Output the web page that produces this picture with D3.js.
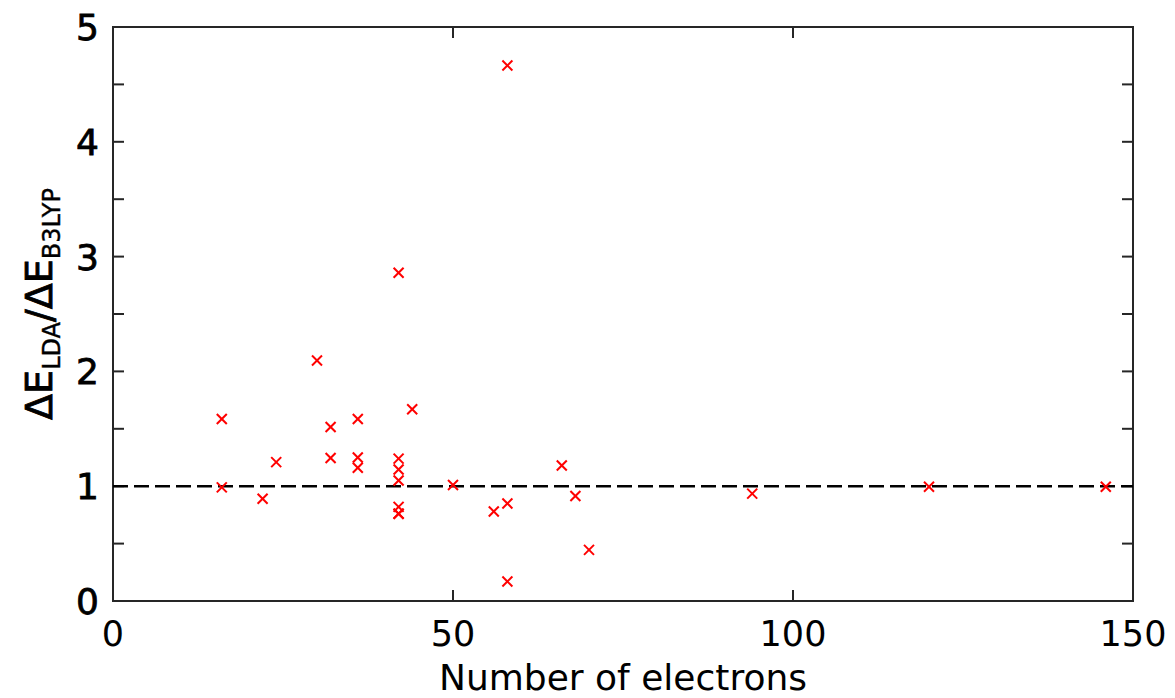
<!DOCTYPE html>
<html>
<head>
<meta charset="utf-8">
<script src="https://cdn.jsdelivr.net/npm/d3@7"></script>
<style>
  body { margin: 0; background: #fff; }
  text { font-family: 'DejaVu Sans', Verdana, sans-serif; fill: #000; }
</style>
</head>
<body>
<div id="chart"></div>
<script>
// number of electrons and energy ratio
const electrons = [16, 16, 22, 24, 30, 32, 32, 36, 36, 36, 42, 42, 42, 42, 42, 42, 42, 44, 50, 56, 58, 58, 58, 66, 68, 70, 94, 120, 146];
const ratio = [1.585, 0.99, 0.89, 1.21, 2.095, 1.515, 1.245, 1.585, 1.25, 1.16, 2.86, 1.24, 1.145, 1.05, 0.82, 0.76, 0.76, 1.67, 1.01, 0.78, 4.665, 0.85, 0.17, 1.18, 0.915, 0.445, 0.935, 0.995, 0.995];
const xTicks = [0, 50, 100, 150];
const yTicks = [0, 1, 2, 3, 4, 5];
const yMinorTicks = [0.5, 1.5, 2.5, 3.5, 4.5];
const refValue = 1;

const width = 1175, height = 698;
const margin = { top: 27, right: 42, bottom: 97, left: 113 };
const innerW = width - margin.left - margin.right;
const innerH = height - margin.top - margin.bottom;

const svg = d3.select('#chart').append('svg')
  .attr('width', width).attr('height', height);

const chart = svg.append('g')
  .attr('transform', 'translate(' + margin.left + ',' + margin.top + ')');

const x = d3.scaleLinear().domain([0, 150]).range([0, innerW]);
const y = d3.scaleLinear().domain([0, 5]).range([innerH, 0]);

const axisColor = '#262626';

// frame
chart.append('rect')
  .attr('x', 0).attr('y', 0)
  .attr('width', innerW).attr('height', innerH)
  .attr('fill', 'none')
  .attr('stroke', axisColor)
  .attr('stroke-width', 2);

// ticks pointing inward on all four sides
const tickLen = 11;
const xt = xTicks;
const yt = yTicks.concat(yMinorTicks);
chart.append('g').selectAll('line').data(xt).enter().append('line')
  .attr('x1', d => x(d)).attr('x2', d => x(d))
  .attr('y1', innerH).attr('y2', innerH - tickLen)
  .attr('stroke', axisColor).attr('stroke-width', 2);
chart.append('g').selectAll('line').data(xt).enter().append('line')
  .attr('x1', d => x(d)).attr('x2', d => x(d))
  .attr('y1', 0).attr('y2', tickLen)
  .attr('stroke', axisColor).attr('stroke-width', 2);
chart.append('g').selectAll('line').data(yt).enter().append('line')
  .attr('x1', 0).attr('x2', tickLen)
  .attr('y1', d => y(d)).attr('y2', d => y(d))
  .attr('stroke', axisColor).attr('stroke-width', 2);
chart.append('g').selectAll('line').data(yt).enter().append('line')
  .attr('x1', innerW).attr('x2', innerW - tickLen)
  .attr('y1', d => y(d)).attr('y2', d => y(d))
  .attr('stroke', axisColor).attr('stroke-width', 2);

// tick labels
chart.append('g').selectAll('text').data(xTicks).enter().append('text')
  .attr('x', d => x(d))
  .attr('y', innerH + 45)
  .attr('text-anchor', 'middle')
  .attr('font-size', 35)
  .text(d => d);
chart.append('g').selectAll('text').data(yTicks).enter().append('text')
  .attr('x', -14)
  .attr('y', d => y(d))
  .attr('dy', '0.36em')
  .attr('text-anchor', 'end')
  .attr('font-size', 36)
  .attr('stroke', '#000')
  .attr('stroke-width', 0.8)
  .text(d => d);

// reference line at 1
chart.append('line')
  .attr('x1', 0).attr('x2', innerW)
  .attr('y1', y(refValue)).attr('y2', y(refValue))
  .attr('stroke', '#000')
  .attr('stroke-width', 2.5)
  .attr('stroke-dasharray', '15,6');

// x markers
const pts = electrons.map((e, i) => ({ x: e, y: ratio[i] }));
const s = 5;
const marks = chart.append('g').selectAll('g').data(pts).enter().append('g')
  .attr('transform', d => 'translate(' + x(d.x) + ',' + y(d.y) + ')');
marks.append('line').attr('x1', -s).attr('y1', -s).attr('x2', s).attr('y2', s)
  .attr('stroke', '#ff0000').attr('stroke-width', 2);
marks.append('line').attr('x1', -s).attr('y1', s).attr('x2', s).attr('y2', -s)
  .attr('stroke', '#ff0000').attr('stroke-width', 2);

// axis titles
svg.append('text')
  .attr('x', margin.left + innerW / 2)
  .attr('y', 690)
  .attr('text-anchor', 'middle')
  .attr('font-size', 36)
  .text('Number of electrons');

const yl = svg.append('text')
  .attr('transform', 'translate(52,' + (margin.top + innerH / 2 - 10) + ') rotate(-90)')
  .attr('text-anchor', 'middle')
  .attr('font-size', 38)
  .attr('stroke', '#000')
  .attr('stroke-width', 0.8);
yl.append('tspan').text('ΔE');
yl.append('tspan').attr('font-size', 24).attr('stroke-width', 0.4).attr('dy', 8).text('LDA');
yl.append('tspan').attr('dy', -8).text('/ΔE');
yl.append('tspan').attr('font-size', 24).attr('stroke-width', 0.4).attr('dy', 8).text('B3LYP');
</script>
</body>
</html>
